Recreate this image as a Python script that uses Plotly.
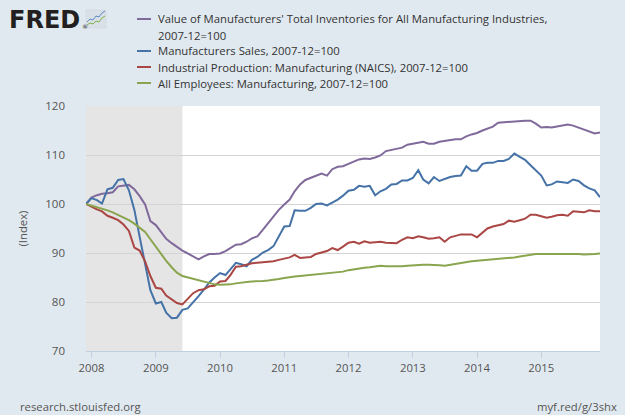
import pandas as pd
import plotly.graph_objects as go

# ---------------- data (monthly, 2007-12 .. 2015-12, index 2007-12=100) ----------------
dates = pd.date_range("2007-12-01", periods=97, freq="MS")

inventories = [
    100.0, 101.3, 101.8, 102.1, 102.2, 102.4, 103.6, 103.8, 103.9, 103.0,
    101.6, 99.9, 96.5, 95.7, 94.3, 92.9, 92.0, 91.2, 90.5, 89.9,
    89.3, 88.7, 89.3, 89.8, 89.8, 89.9, 90.4, 91.1, 91.7, 91.8,
    92.3, 93.0, 93.4, 94.7, 96.0, 97.3, 98.8, 99.9, 100.9, 102.6,
    104.0, 104.9, 105.3, 105.8, 106.2, 105.8, 107.1, 107.6, 107.7, 108.2,
    108.6, 109.1, 109.3, 109.2, 109.5, 109.9, 110.8, 111.0, 111.2, 111.5,
    112.1, 112.3, 112.5, 112.7, 112.3, 112.3, 112.7, 112.9, 113.1, 113.2,
    113.2, 113.8, 114.2, 114.5, 115.0, 115.4, 115.8, 116.6, 116.7, 116.7,
    116.8, 116.9, 117.0, 117.0, 116.4, 115.6, 115.7, 115.6, 115.8, 115.9,
    116.2, 116.0, 115.6, 115.1, 114.7, 114.4, 114.6,
]
sales = [
    100.0, 101.2, 100.8, 100.1, 103.0, 103.3, 104.9, 105.1, 102.8, 98.8,
    93.3, 87.5, 82.4, 79.7, 80.0, 77.8, 76.7, 76.8, 78.4, 78.7,
    79.9, 81.2, 82.5, 84.0, 85.0, 85.9, 85.5, 86.6, 88.0, 87.7,
    87.3, 88.6, 89.2, 90.1, 90.6, 91.4, 93.4, 95.4, 95.5, 98.7,
    98.6, 98.6, 99.2, 100.0, 100.1, 99.7, 100.3, 100.9, 101.7, 102.7,
    102.9, 103.7, 103.5, 103.7, 101.8, 102.6, 103.1, 104.0, 104.1, 104.8,
    104.8, 105.3, 106.9, 105.0, 104.2, 105.5, 104.7, 105.1, 105.5, 105.7,
    105.8, 107.7, 106.8, 106.8, 108.2, 108.4, 108.4, 108.8, 108.8, 109.2,
    110.3, 109.6, 109.0, 107.9, 106.9, 105.8, 103.8, 104.0, 104.6, 104.5,
    104.3, 105.0, 104.7, 103.8, 103.2, 102.8, 101.4,
]
production = [
    100.0, 99.4, 98.9, 98.5, 97.6, 97.2, 96.7, 95.8, 94.5, 91.1,
    90.5, 88.3, 85.3, 82.9, 82.7, 81.3, 80.6, 79.8, 79.5, 80.7,
    81.8, 82.4, 82.6, 83.2, 83.3, 84.2, 84.3, 85.5, 87.2, 87.3,
    87.6, 87.9, 88.0, 88.1, 88.2, 88.3, 88.6, 88.9, 89.1, 89.6,
    89.0, 89.1, 89.2, 89.8, 90.1, 90.4, 91.0, 90.6, 91.3, 92.1,
    92.3, 91.9, 92.4, 92.1, 92.2, 92.3, 92.1, 92.1, 92.0, 92.7,
    93.2, 93.0, 93.4, 93.2, 92.9, 93.0, 93.2, 92.3, 93.2, 93.5,
    93.8, 93.8, 93.8, 93.2, 94.2, 95.0, 95.4, 95.6, 95.9, 96.6,
    96.4, 96.7, 97.0, 97.8, 97.8, 97.5, 97.2, 97.4, 97.7, 97.8,
    97.6, 98.5, 98.4, 98.3, 98.7, 98.5, 98.5,
]
employees = [
    100.0, 99.7, 99.4, 99.0, 98.7, 98.3, 97.8, 97.3, 96.7, 96.0,
    95.2, 94.3, 92.8, 91.2, 89.8, 88.4, 87.1, 86.0, 85.3, 85.0,
    84.7, 84.4, 84.1, 83.8, 83.6, 83.5, 83.5, 83.6, 83.8, 84.0,
    84.1, 84.2, 84.2, 84.3, 84.4, 84.5, 84.7, 84.9, 85.1, 85.2,
    85.3, 85.4, 85.5, 85.7, 85.8, 85.8, 85.9, 86.0, 86.2, 86.5,
    86.7, 86.9, 87.0, 87.1, 87.3, 87.4, 87.3, 87.3, 87.2, 87.3,
    87.4, 87.5, 87.6, 87.6, 87.6, 87.6, 87.5, 87.4, 87.6, 87.8,
    88.0, 88.2, 88.3, 88.4, 88.5, 88.6, 88.6, 88.7, 88.8, 89.0,
    89.1, 89.3, 89.5, 89.7, 89.8, 89.8, 89.8, 89.8, 89.9, 89.9,
    89.9, 89.9, 89.8, 89.7, 89.7, 89.8, 89.9,
]

series_names = [
    ["Value of Manufacturers' Total Inventories for All Manufacturing Industries,", "2007-12=100"],
    ["Manufacturers Sales, 2007-12=100"],
    ["Industrial Production: Manufacturing (NAICS), 2007-12=100"],
    ["All Employees: Manufacturing, 2007-12=100"],
]
series_values = [inventories, sales, production, employees]
series_colors = ["#80699B", "#4572A7", "#AA4643", "#89A54E"]

recession = ("2007-12-01", "2009-06-01")
y_ticks = [70, 80, 90, 100, 110, 120]

# ---------------- layout geometry ----------------
W, H = 625, 415
L, R, T, B = 86, 25, 106, 64
PW, PH = W - L - R, H - T - B


def px(x):
    return (x - L) / PW


def py(y):
    return (H - B - y) / PH


FONT = "Open Sans, Noto Sans, sans-serif"

fig = go.Figure()
for name, vals, col in zip(series_names, series_values, series_colors):
    fig.add_trace(go.Scatter(
        x=dates, y=vals, mode="lines", name=" ".join(name),
        line=dict(color=col, width=2), showlegend=False,
    ))

shapes = [
    dict(type="rect", xref="x", yref="paper", x0=recession[0], x1=recession[1],
         y0=0, y1=1, fillcolor="#e5e5e5", line=dict(width=0), layer="below"),
]
annotations = []

# manual legend
leg_y = [19, 51, 67, 83]
for name, col, yc in zip(series_names, series_colors, leg_y):
    shapes.append(dict(type="line", xref="paper", yref="paper",
                       x0=px(137), x1=px(151), y0=py(yc), y1=py(yc),
                       line=dict(color=col, width=2)))
    for k, line_txt in enumerate(name):
        annotations.append(dict(
            xref="paper", yref="paper", x=px(156), y=py(yc + 16 * k),
            xanchor="left", yanchor="middle", showarrow=False, text=line_txt,
            font=dict(family=FONT, size=11.3, color="#333333")))

# FRED logo
annotations.append(dict(xref="paper", yref="paper", x=px(7), y=py(19.5),
                        xanchor="left", yanchor="middle", showarrow=False,
                        text="<b>FRED</b>",
                        font=dict(family="DejaVu Sans", size=24, color="#231f20")))
annotations.append(dict(xref="paper", yref="paper", x=px(80), y=py(26),
                        xanchor="left", yanchor="middle", showarrow=False,
                        text="®", font=dict(family="DejaVu Sans", size=6, color="#231f20")))
shapes.append(dict(type="rect", xref="paper", yref="paper",
                   x0=px(86), x1=px(106), y0=py(28), y1=py(10),
                   fillcolor="#d9e0e8", line=dict(color="#c8d0da", width=0.5)))


def path(points):
    return "M " + " L ".join(f"{px(a)},{py(b)}" for a, b in points)


shapes.append(dict(type="path", xref="paper", yref="paper",
                   path=path([(87, 22), (90, 19), (93, 20), (96, 16), (99, 17), (102, 13), (105, 11)]),
                   line=dict(color="#5b8cc0", width=1)))
shapes.append(dict(type="path", xref="paper", yref="paper",
                   path=path([(87, 25), (90, 23), (93, 24), (96, 21), (99, 22), (102, 18), (105, 16)]),
                   line=dict(color="#7fb04a", width=1)))

# y-axis title
annotations.append(dict(xref="paper", yref="paper", x=px(22), y=0.5,
                        xanchor="center", yanchor="middle", showarrow=False,
                        text="(Index)", textangle=-90,
                        font=dict(family=FONT, size=11.3, color="#555555")))
# footer
annotations.append(dict(xref="paper", yref="paper", x=px(18), y=py(406),
                        xanchor="left", yanchor="middle", showarrow=False,
                        text="research.stlouisfed.org",
                        font=dict(family=FONT, size=11.3, color="#555555")))
annotations.append(dict(xref="paper", yref="paper", x=px(619), y=py(406),
                        xanchor="right", yanchor="middle", showarrow=False,
                        text="myf.red/g/3shx",
                        font=dict(family=FONT, size=11.3, color="#555555")))

fig.update_layout(
    width=W, height=H,
    margin=dict(l=L, r=R, t=T, b=B, pad=0),
    paper_bgcolor="#e1e9f0", plot_bgcolor="#ffffff",
    font=dict(family=FONT, size=11, color="#555555"),
    shapes=shapes, annotations=annotations,
    showlegend=False,
)
fig.update_xaxes(
    type="date", range=["2007-12-01", "2015-12-01"],
    tick0="2008-01-01", dtick="M12", tickformat="%Y",
    ticks="outside", ticklen=6, tickcolor="#c0d0e0", tickwidth=1,
    showline=True, linecolor="#c0d0e0", linewidth=1,
    showgrid=False, zeroline=False,
    tickfont=dict(family=FONT, size=11.3, color="#555555"),
)
fig.update_yaxes(
    range=[70, 120], tickvals=y_ticks,
    showgrid=True, gridcolor="#d4d4d4", gridwidth=1,
    zeroline=False, showline=False, ticks="",
    ticklabelstandoff=20,
    tickfont=dict(family=FONT, size=11.5, color="#555555"),
)

fig.write_html(
    "out.html",
    config={"displayModeBar": False},
    post_script="document.body.style.margin='0';document.body.style.overflow='hidden';",
)
